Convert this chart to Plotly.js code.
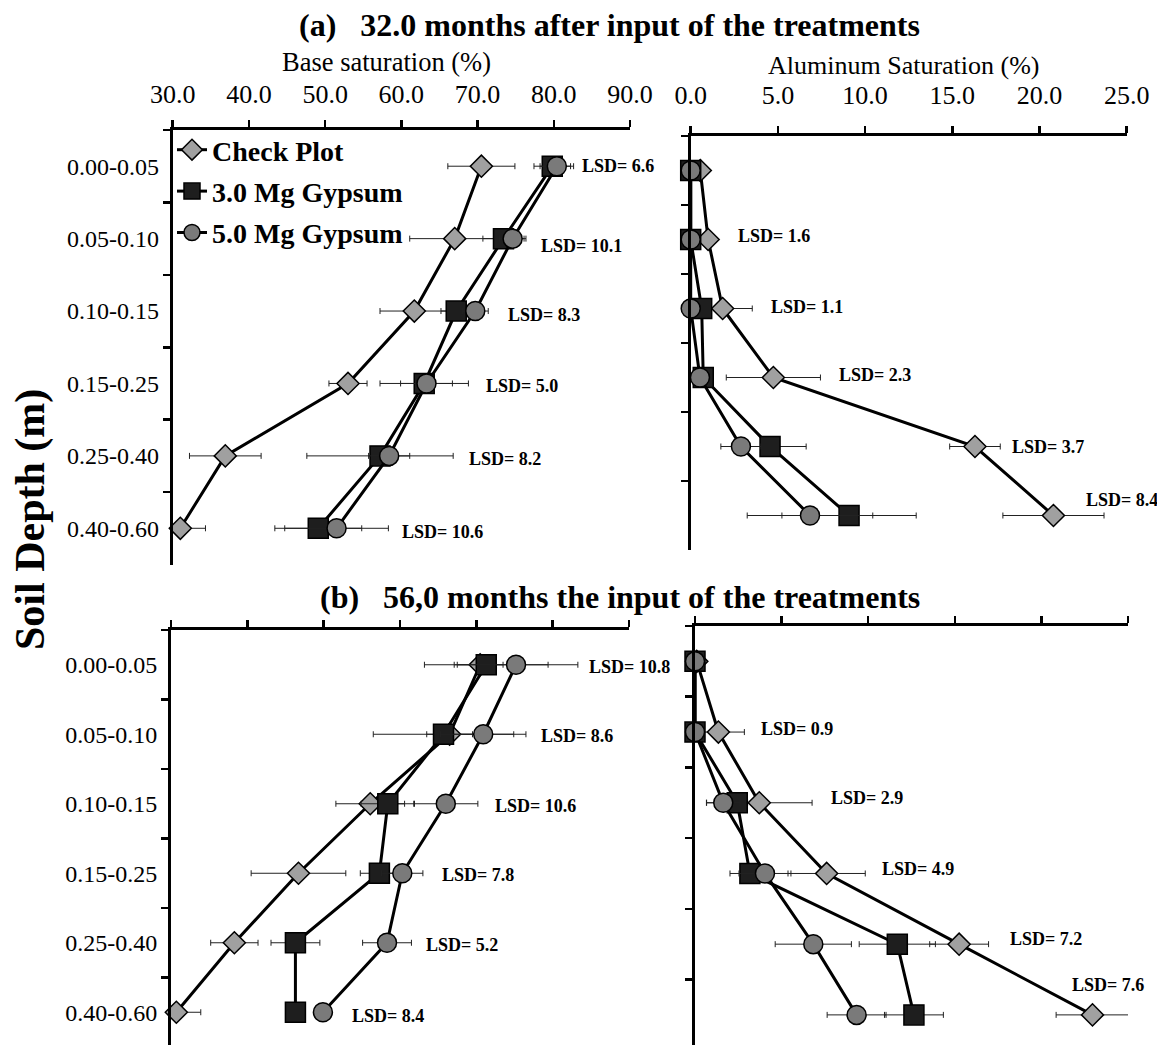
<!DOCTYPE html>
<html>
<head>
<meta charset="utf-8">
<script src="https://cdn.plot.ly/plotly-3.0.1.min.js"></script>
<style>html,body{margin:0;padding:0;background:#fff;}#chart{width:1157px;height:1045px;}</style>
</head>
<body>
<div id="chart"></div>
<script>
// ---- data ----
const depths = ['0.00-0.05','0.05-0.10','0.10-0.15','0.15-0.25','0.25-0.40','0.40-0.60'];
const seriesNames = ['Check Plot','3.0 Mg Gypsum','5.0 Mg Gypsum'];

// (a) 32.0 months - Base saturation (%)
const bs32_check = [70.5, 67.0, 61.7, 53.0, 36.9, 31.0];
const bs32_g3    = [79.8, 73.4, 67.2, 63.0, 57.2, 49.1];
const bs32_g5    = [80.4, 74.6, 69.7, 63.3, 58.4, 51.5];
const bs32_check_err = [4.4, 5.9, 4.5, 2.5, 4.7, 3.3];
const bs32_g3_err    = [2.4, 2.7, 2.0, 5.8, 9.6, 5.7];
const bs32_g5_err    = [2.2, 1.75, 1.7, 3.4, 2.7, 6.8];
const bs32_lsd = ['6.6','10.1','8.3','5.0','8.2','10.6'];

// (a) 32.0 months - Aluminum saturation (%)
const al32_check = [0.55, 1.0, 1.83, 4.74, 16.3, 20.8];
const al32_g3    = [0.0, 0.0, 0.63, 0.72, 4.55, 9.08];
const al32_g5    = [0.0, 0.0, 0.0, 0.53, 2.88, 6.84];
const al32_check_err = [0, 0, 1.7, 2.7, 1.45, 2.9];
const al32_g3_err    = [0, 0, 0, 0, 2.07, 3.85];
const al32_g5_err    = [0, 0, 0, 0, 1.15, 3.6];
const al32_lsd = ['1.6','1.1','2.3','3.7','8.4'];

// (b) 56.0 months - Base saturation (%)
const bs56_check = [70.5, 66.5, 56.1, 46.7, 38.3, 30.7];
const bs56_g3    = [71.3, 65.7, 58.4, 57.3, 46.3, 46.3];
const bs56_g5    = [75.2, 70.9, 66.0, 60.3, 58.3, 49.9];
const bs56_check_err = [3.0, 3.0, 4.5, 6.2, 3.1, 3.2];
const bs56_g3_err    = [8.1, 9.2, 3.5, 2.5, 3.2, 0];
const bs56_g5_err    = [8.1, 5.6, 4.2, 2.7, 3.2, 0];
const bs56_lsd = ['10.8','8.6','10.6','7.8','5.2','8.4'];

// (b) 56.0 months - Aluminum saturation (%)
const al56_check = [0.1, 1.35, 3.71, 7.6, 15.25, 22.95];
const al56_g3    = [0.0, 0.0, 2.44, 3.17, 11.68, 12.64];
const al56_g5    = [0.0, 0.0, 1.63, 4.04, 6.83, 9.33];
const al56_check_err = [0, 1.5, 3.05, 2.23, 1.7, 2.1];
const al56_g3_err    = [0, 0, 0.6, 1.15, 2.2, 1.7];
const al56_g5_err    = [0, 0, 0.96, 1.5, 2.2, 1.7];
const al56_lsd = ['0.9','2.9','4.9','7.2','7.6'];

// label placement (data units) for the LSD notes
const bs32_lsdX = [83.45, 78.1, 73.7, 70.85, 68.6, 59.8];
const bs32_lsdY = [0, 1.1, 2.05, 3.03, 4.04, 5.05];
const al32_lsdX = [2.6, 4.5, 8.37, 18.3, 22.55];
const al32_lsdY = [0.95, 1.98, 2.97, 4.0, 4.77];
const bs56_lsdX = [84.5, 78.2, 72.2, 65.3, 63.2, 53.5];
const bs56_lsdY = [0.03, 1.03, 2.03, 3.03, 4.03, 5.05];
const al56_lsdX = [3.7, 7.75, 10.68, 18.09, 21.65];
const al56_lsdY = [0.95, 1.93, 2.93, 3.92, 4.58];

// ---- styles ----
const FONT = 'Liberation Serif, Times New Roman, serif';
const markerStyles = [
  {symbol:'diamond', size:17, color:'#a0a0a0', line:{color:'#000', width:1.5}},
  {symbol:'square',  size:20, color:'#1e1e1e', line:{color:'#000', width:1.5}},
  {symbol:'circle',  size:19, color:'#7a7a7a', line:{color:'#000', width:1.5}}
];

function mk(vals, errs, idx, xa, ya, showLeg) {
  return {
    type:'scatter', mode:'lines+markers',
    x: vals, y: depths, xaxis: xa, yaxis: ya,
    name: seriesNames[idx], legendgroup: 'g'+idx, showlegend: showLeg,
    line:{color:'#000', width:3},
    marker: markerStyles[idx],
    cliponaxis:false,
    error_x:{type:'data', array: errs, visible:true, color:'#222', thickness:1, width:3}
  };
}

const traces = [
  mk(bs32_check, bs32_check_err, 0, 'x', 'y', true),
  mk(bs32_g3, bs32_g3_err, 1, 'x', 'y', true),
  mk(bs32_g5, bs32_g5_err, 2, 'x', 'y', true),
  mk(al32_check, al32_check_err, 0, 'x2', 'y2', false),
  mk(al32_g3, al32_g3_err, 1, 'x2', 'y2', false),
  mk(al32_g5, al32_g5_err, 2, 'x2', 'y2', false),
  mk(bs56_check, bs56_check_err, 0, 'x3', 'y3', false),
  mk(bs56_g3, bs56_g3_err, 1, 'x3', 'y3', false),
  mk(bs56_g5, bs56_g5_err, 2, 'x3', 'y3', false),
  mk(al56_check, al56_check_err, 0, 'x4', 'y4', false),
  mk(al56_g3, al56_g3_err, 1, 'x4', 'y4', false),
  mk(al56_g5, al56_g5_err, 2, 'x4', 'y4', false)
];

function xAx(domain, range, dtick, anchor, labels, standoff) {
  return {
    domain: domain, range: range, dtick: dtick, tick0: 0, tickformat: '.1f',
    side:'top', anchor: anchor, showgrid:false, zeroline:false,
    showline:true, linecolor:'#000', linewidth:3,
    ticks:'outside', ticklen:7, tickwidth:2.5, tickcolor:'#000',
    showticklabels: labels, ticklabelstandoff: standoff,
    tickfont:{family:FONT, size:26, color:'#000'}
  };
}
function yAx(domain, range, anchor, labels) {
  return {
    domain: domain, range: range, type:'category', anchor: anchor,
    categoryorder:'array', categoryarray: depths,
    showgrid:false, zeroline:false,
    showline:true, linecolor:'#000', linewidth:3,
    ticks:'outside', tickson:'boundaries', ticklen:7, tickwidth:2.5, tickcolor:'#000',
    showticklabels: labels, ticklabelstandoff: 6,
    tickfont:{family:FONT, size:24, color:'#000'}
  };
}

const annotations = [];
function lsdNotes(vals, xs, ys, xref, yref) {
  vals.forEach((v, i) => {
    annotations.push({
      text: 'LSD= ' + v, x: xs[i], y: ys[i],
      xref: xref, yref: yref, xanchor:'left', yanchor:'middle', showarrow:false,
      font:{family:FONT, size:18, color:'#000', weight:'bold'}
    });
  });
}
lsdNotes(bs32_lsd, bs32_lsdX, bs32_lsdY, 'x', 'y');
lsdNotes(al32_lsd, al32_lsdX, al32_lsdY, 'x2', 'y2');
lsdNotes(bs56_lsd, bs56_lsdX, bs56_lsdY, 'x3', 'y3');
lsdNotes(al56_lsd, al56_lsdX, al56_lsdY, 'x4', 'y4');

annotations.push(
  {text:'<b>(a)\u00a0\u00a0 32.0 months after input of the treatments</b>', xref:'paper', yref:'paper',
   x: 610/1157, y: 1-25/1045, xanchor:'center', yanchor:'middle', showarrow:false,
   font:{family:FONT, size:32, color:'#000'}},
  {text:'<b>(b)\u00a0\u00a0 56,0 months the input of the treatments</b>', xref:'paper', yref:'paper',
   x: 620/1157, y: 1-597/1045, xanchor:'center', yanchor:'middle', showarrow:false,
   font:{family:FONT, size:32, color:'#000'}},
  {text:'Base saturation (%)', xref:'paper', yref:'paper',
   x: 386/1157, y: 1-62/1045, xanchor:'center', yanchor:'middle', showarrow:false,
   font:{family:FONT, size:26.5, color:'#000'}},
  {text:'Aluminum Saturation (%)', xref:'paper', yref:'paper',
   x: 904/1157, y: 1-66/1045, xanchor:'center', yanchor:'middle', showarrow:false,
   font:{family:FONT, size:26, color:'#000'}},
  {text:'<b>Soil Depth (m)</b>', xref:'paper', yref:'paper', textangle:-90,
   x: 31/1157, y: 1-520/1045, xanchor:'center', yanchor:'middle', showarrow:false,
   font:{family:FONT, size:42, color:'#000'}}
);

const layout = {
  width:1157, height:1045,
  margin:{l:0, r:0, t:0, b:0},
  paper_bgcolor:'#fff', plot_bgcolor:'rgba(0,0,0,0)',
  showlegend:true,
  legend:{x: 172/1157, y: 1-125/1045, xanchor:'left', yanchor:'top',
          bgcolor:'rgba(0,0,0,0)', borderwidth:0, traceorder:'grouped', tracegroupgap:2,
          font:{family:FONT, size:28, color:'#000', weight:'bold'}},
  xaxis:  xAx([172.7/1157, 630/1157], [30, 90], 10, 'y', true, 7),
  yaxis:  yAx([1-564.5/1045, 1-130/1045], [5.5, -0.5], 'x', true),
  xaxis2: xAx([690.7/1157, 1126.7/1157], [0, 25], 5, 'y2', true, 12),
  yaxis2: yAx([1-550/1045, 1-136/1045], [5.5, -0.5], 'x2', false),
  xaxis3: xAx([171/1157, 629/1157], [30, 90], 10, 'y3', false, 7),
  yaxis3: yAx([0, 1-630/1045], [5.471, -0.5], 'x3', true),
  xaxis4: xAx([695/1157, 1128/1157], [0, 25], 5, 'y4', false, 7),
  yaxis4: yAx([0, 1-626/1045], [5.426, -0.5], 'x4', false),
  annotations: annotations
};

Plotly.newPlot('chart', traces, layout, {staticPlot:true, displayModeBar:false});
</script>
</body>
</html>
